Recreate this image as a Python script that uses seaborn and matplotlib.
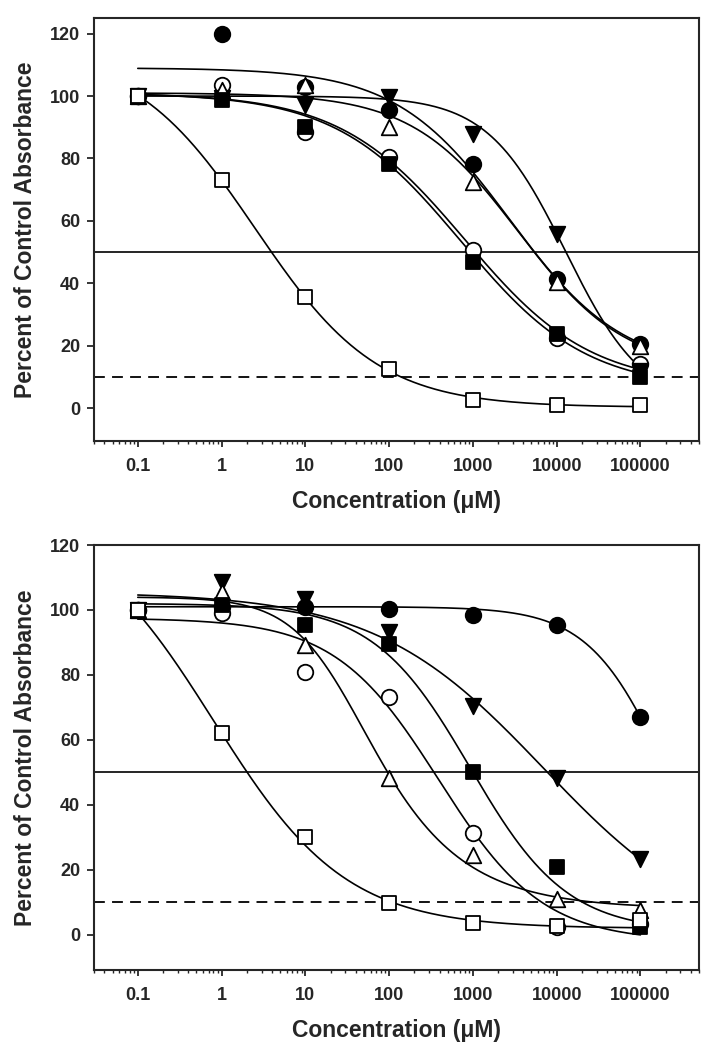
import numpy as np
import pandas as pd
import matplotlib
matplotlib.use("Agg")
import matplotlib.pyplot as plt
import seaborn as sns

sns.set_style("ticks")
plt.rcParams['font.family'] = ['Liberation Sans', 'DejaVu Sans']
plt.rcParams['font.weight'] = 'bold'

# ---------------- data ----------------
conc = [0.1, 1, 10, 100, 1000, 10000, 100000]
series_names = ["filled_circle", "open_circle", "filled_tri", "open_tri", "filled_sq", "open_sq"]

top_filled_circle = [100, 120, 103, 95.4, 78.3, 41.5, 20.7]
top_open_circle = [100, 103.4, 88.4, 80.4, 50.8, 22.4, 14.3]
top_filled_tri = [100, 99.5, 97, 99.8, 87.9, 55.9, 12]
top_open_tri = [100, 101.8, 103.4, 90, 72.4, 40.5, 20]
top_filled_sq = [100, 98.6, 90, 78.3, 46.8, 23.9, 10]
top_open_sq = [100, 73, 35.5, 12.5, 2.6, 1, 1]

bot_filled_circle = [100, 101, 100.8, 100.2, 98.5, 95.4, 67.2]
bot_open_circle = [100, 99, 81, 73.3, 31.3, 2.5, 3.5]
bot_filled_tri = [100, 108.7, 103.3, 93.3, 70.3, 48.3, 23.5]
bot_open_tri = [100, 105.6, 89.2, 48.3, 24.5, 11, 7.7]
bot_filled_sq = [100, 101.5, 95.4, 89.5, 50.2, 21, 2.5]
bot_open_sq = [100, 62, 30.2, 9.8, 3.8, 2.6, 4.5]

# fitted logistic curve parameters: top, bottom, EC50, hill, asymmetry
top_fit_top = [109, 101, 100, 101, 101, 115]
top_fit_bottom = [12, 7, 0, 12, 6, 0.3]
top_fit_ec50 = [2740, 803, 12900, 3500, 720, 2.51]
top_fit_hill = [0.64, 0.58, 0.93, 0.68, 0.58, 0.593]
top_fit_asym = [1, 1, 1, 1, 1, 1]

bot_fit_top = [101, 97.5, 105.5, 104, 102, 130]
bot_fit_bottom = [0, -2, -3, 8, 1, 2]
bot_fit_ec50 = [2.07e5, 391, 7000, 26, 925, 0.8]
bot_fit_hill = [0.93, 0.7, 0.43, 1.1, 0.75, 0.55]
bot_fit_asym = [1, 1, 1, 0.5, 1, 1]

y_ticks = [0, 20, 40, 60, 80, 100, 120]
x_ticks = [0.1, 1, 10, 100, 1000, 10000, 100000]
x_tick_labels = ["0.1", "1", "10", "100", "1000", "10000", "100000"]
ref_solid = 50
ref_dashed = 10

# ---------------- styling ----------------
marker_style = {
    "filled_circle": dict(marker="o", fc="black"),
    "open_circle": dict(marker="o", fc="white"),
    "filled_tri": dict(marker="v", fc="black"),
    "open_tri": dict(marker="^", fc="white"),
    "filled_sq": dict(marker="s", fc="black"),
    "open_sq": dict(marker="s", fc="white"),
}
msize = {"o": 125, "v": 125, "^": 125, "s": 115}


def logistic(x, top, bottom, ec50, hill, asym):
    return bottom + (top - bottom) / (1 + (x / ec50) ** hill) ** asym


def draw_panel(ax, values, fit_params, ylim):
    xs = np.logspace(-1, 5, 400)
    for i, name in enumerate(series_names):
        p = [fp[i] for fp in fit_params]
        ys = logistic(xs, *p)
        sns.lineplot(x=xs, y=ys, ax=ax, color="black", lw=1.2,
                     estimator=None, sort=False, zorder=2)
    ax.axhline(ref_solid, color="black", lw=1.2, zorder=1)
    ax.axhline(ref_dashed, color="black", lw=1.3, ls=(0, (6, 4)), zorder=1)
    for i, name in enumerate(series_names):
        st = marker_style[name]
        df = pd.DataFrame({"x": conc, "y": values[i]})
        sns.scatterplot(data=df, x="x", y="y", ax=ax, marker=st["marker"],
                        s=msize[st["marker"]], facecolor=st["fc"],
                        edgecolor="black", linewidth=1.3, zorder=3 + i)
    ax.set_xscale("log")
    ax.set_xlim(0.03, 5e5)
    ax.set_ylim(*ylim)
    ax.set_xticks(x_ticks)
    ax.set_xticklabels(x_tick_labels)
    ax.set_yticks(y_ticks)
    ax.xaxis.set_minor_locator(matplotlib.ticker.LogLocator(base=10, subs=np.arange(2, 10)))
    ax.xaxis.set_minor_formatter(matplotlib.ticker.NullFormatter())
    ax.tick_params(axis="y", which="major", direction="out", length=5, width=1.3,
                   labelsize=13, pad=5)
    ax.tick_params(axis="x", which="major", direction="out", length=4, width=1.3,
                   labelsize=13, pad=8)
    ax.tick_params(axis="x", which="minor", direction="out", length=2.5, width=1.0)
    for lab in ax.get_xticklabels() + ax.get_yticklabels():
        lab.set_fontweight("bold")
    for sp in ax.spines.values():
        sp.set_visible(True)
        sp.set_linewidth(1.5)
    ax.set_xlabel("Concentration (\u03bcM)", fontsize=16.5, fontweight="bold", labelpad=11)
    ax.set_ylabel("Percent of Control Absorbance", fontsize=16.5, fontweight="bold", labelpad=9)


fig = plt.figure(figsize=(7.01, 10.5), dpi=100)
ax1 = fig.add_axes([94 / 701, 1 - 441 / 1050, 605 / 701, 423 / 1050])
ax2 = fig.add_axes([94 / 701, 1 - 970 / 1050, 605 / 701, 425 / 1050])

top_vals = [top_filled_circle, top_open_circle, top_filled_tri, top_open_tri, top_filled_sq, top_open_sq]
bot_vals = [bot_filled_circle, bot_open_circle, bot_filled_tri, bot_open_tri, bot_filled_sq, bot_open_sq]

draw_panel(ax1, top_vals, [top_fit_top, top_fit_bottom, top_fit_ec50, top_fit_hill, top_fit_asym], (-10.5, 125))
draw_panel(ax2, bot_vals, [bot_fit_top, bot_fit_bottom, bot_fit_ec50, bot_fit_hill, bot_fit_asym], (-10.8, 120))

fig.savefig("out.png", dpi=100)
